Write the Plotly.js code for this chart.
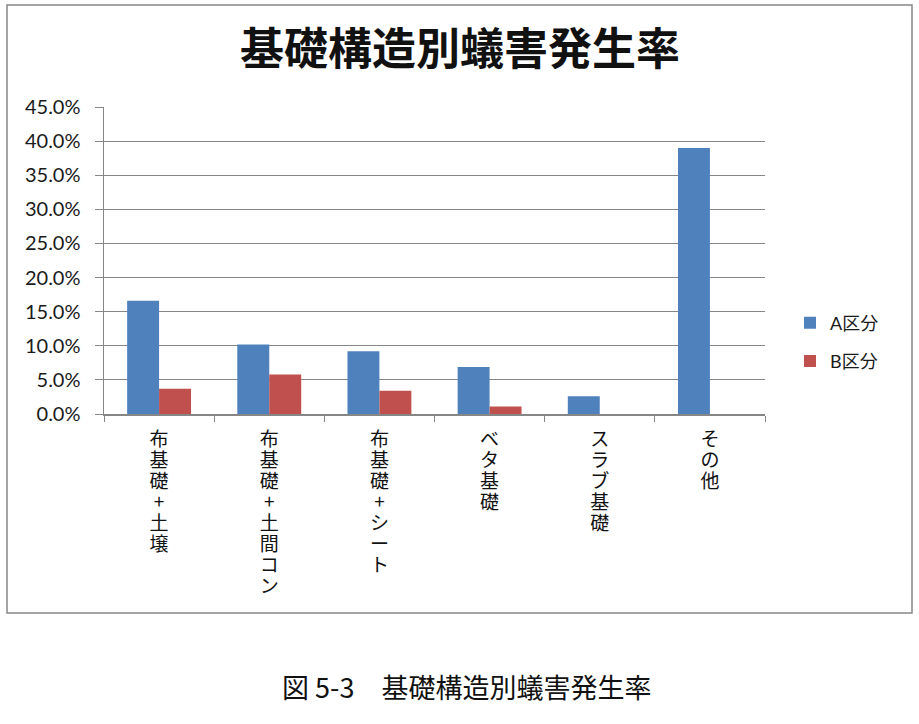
<!DOCTYPE html>
<html>
<head>
<meta charset="utf-8">
<script src="https://cdn.plot.ly/plotly-3.0.1.min.js"></script>
<style>
html,body{margin:0;padding:0;background:#fff;}
#chart{width:919px;height:724px;}
</style>
</head>
<body>
<div id="chart"></div>
<script>
var categories = ["布基礎+土壌", "布基礎+土間コン", "布基礎+シート", "ベタ基礎", "スラブ基礎", "その他"];
var seriesA = [0.166, 0.102, 0.092, 0.069, 0.026, 0.390];
var seriesB = [0.037, 0.058, 0.034, 0.011, 0, 0];
var seriesNames = ["A区分", "B区分"];
var yTicks = [0, 0.05, 0.10, 0.15, 0.20, 0.25, 0.30, 0.35, 0.40, 0.45];

var verticalText = categories.map(function (c) { return Array.from(c).join("<br>"); });

var fontJP = "Lato, 'Noto Sans CJK JP', sans-serif";
var cjk = "'Noto Sans CJK JP', sans-serif";

var traces = [
  { type: "bar", name: seriesNames[0], x: categories, y: seriesA, marker: { color: "#4F81BD" }, legendgroup: "a", hoverinfo: "skip" },
  { type: "bar", name: seriesNames[1], x: categories, y: seriesB, marker: { color: "#C0504D" }, legendgroup: "b", hoverinfo: "skip" }
];

var pw = 661, ph = 307, ml = 104, mt = 107;
function px2x(p) { return (p - ml) / pw; }
function py2y(p) { return (mt + ph - p) / ph; }

var layout = {
  width: 919, height: 724,
  margin: { l: ml, r: 919 - ml - pw, t: mt, b: 724 - mt - ph, pad: 0 },
  paper_bgcolor: "#ffffff", plot_bgcolor: "#ffffff",
  barmode: "group", bargap: 0.42, bargroupgap: 0,
  font: { family: fontJP, color: "#1a1a1a" },
  title: {
    text: "<b>基礎構造別蟻害発生率</b>",
    font: { family: cjk, size: 44, color: "#111" },
    x: px2x(460), xref: "paper", xanchor: "center",
    y: 1 - 50 / 724, yref: "container", yanchor: "middle"
  },
  xaxis: {
    type: "category",
    tickmode: "array", tickvals: categories, ticktext: verticalText,
    tickangle: 0, tickson: "boundaries", ticks: "outside", ticklen: 6, tickcolor: "#868686",
    ticklabelstandoff: 8,
    showline: true, linecolor: "#868686", linewidth: 1.5,
    showgrid: false, zeroline: false,
    tickfont: { family: cjk, size: 19, color: "#111" },
    automargin: false, fixedrange: true
  },
  yaxis: {
    range: [0, 0.45], tickmode: "array", tickvals: yTicks, tickformat: ".1%",
    ticks: "outside", ticklen: 8, tickcolor: "#868686", ticklabelstandoff: 10,
    showline: true, linecolor: "#868686", linewidth: 1.5,
    showgrid: true, gridcolor: "#868686", gridwidth: 1.2,
    zeroline: false,
    tickfont: { family: fontJP, size: 20, color: "#1a1a1a" },
    automargin: false, fixedrange: true
  },
  showlegend: true,
  legend: {
    x: px2x(790), xanchor: "left", y: py2y(342), yanchor: "middle",
    traceorder: "grouped", tracegroupgap: 12,
    font: { family: fontJP, size: 18, color: "#1a1a1a" },
    itemwidth: 30, bgcolor: "rgba(0,0,0,0)"
  },
  shapes: [
    { type: "rect", xref: "paper", yref: "paper", x0: px2x(7), x1: px2x(912), y0: py2y(613), y1: py2y(5),
      line: { color: "#868686", width: 1.5 }, fillcolor: "rgba(0,0,0,0)", layer: "below" }
  ],
  annotations: [
    { text: "図 5-3　基礎構造別蟻害発生率", xref: "paper", yref: "paper", x: px2x(466), y: py2y(686),
      xanchor: "center", yanchor: "middle", showarrow: false,
      font: { family: cjk, size: 27, color: "#111" } }
  ]
};

Plotly.newPlot("chart", traces, layout, { displayModeBar: false, staticPlot: true }).then(function (gd) {
  // tighten the stacked (vertical) category labels
  var texts = gd.querySelectorAll(".xtick text");
  texts.forEach(function (t) {
    var lines = t.querySelectorAll("tspan.line");
    lines.forEach(function (ln, i) { ln.setAttribute("dy", (i * 1.1) + "em"); });
  });
});
</script>
</body>
</html>
